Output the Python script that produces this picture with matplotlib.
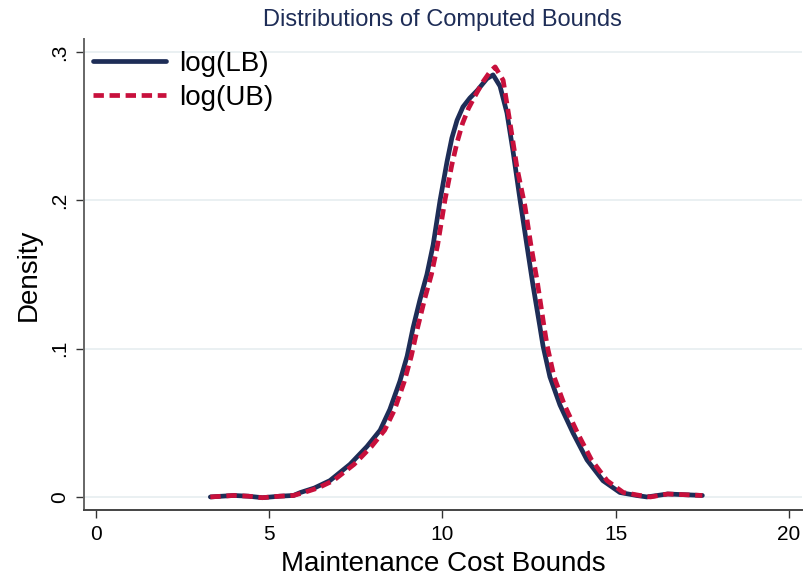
import matplotlib.pyplot as plt

plt.rcParams['font.family'] = ['Liberation Sans', 'DejaVu Sans']

# kernel density of log lower bound
x_lb = [3.3, 3.97, 4.4, 4.8, 5.3, 5.7, 5.9, 6.3, 6.75, 7.33, 7.82, 8.2, 8.48,
        8.77, 8.98, 9.15, 9.35, 9.55, 9.73, 9.93, 10.13, 10.27, 10.42, 10.59,
        10.79, 11.0, 11.28, 11.46, 11.66, 11.86, 12.03, 12.24, 12.44, 12.61,
        12.81, 12.9, 13.1, 13.39, 13.77, 14.17, 14.63, 15.12, 15.6, 15.9,
        16.5, 17.0, 17.5]
d_lb = [0.0, 0.001, 0.0005, -0.0005, 0.0005, 0.001, 0.003, 0.006, 0.011,
        0.022, 0.034, 0.045, 0.059, 0.078, 0.095, 0.114, 0.133, 0.150, 0.170,
        0.200, 0.226, 0.242, 0.254, 0.263, 0.269, 0.274, 0.282, 0.2846,
        0.277, 0.259, 0.234, 0.200, 0.169, 0.143, 0.115, 0.102, 0.081, 0.062,
        0.043, 0.025, 0.011, 0.003, 0.001, 0.0, 0.002, 0.0015, 0.001]

# kernel density of log upper bound
x_ub = [3.3, 3.97, 4.4, 4.8, 5.3, 5.7, 6.0, 6.4, 6.85, 7.45, 7.95, 8.33, 8.62,
        8.9, 9.1, 9.28, 9.48, 9.68, 9.86, 10.07, 10.27, 10.42, 10.58, 10.75,
        10.93, 11.17, 11.38, 11.52, 11.75, 11.95, 12.15, 12.38, 12.55, 12.73,
        12.93, 13.02, 13.22, 13.52, 13.9, 14.3, 14.75, 15.22, 15.7, 16.0,
        16.5, 17.0, 17.5]
d_ub = [0.0, 0.001, 0.0005, -0.0005, 0.0005, 0.001, 0.003, 0.006, 0.011,
        0.022, 0.034, 0.045, 0.059, 0.078, 0.095, 0.114, 0.133, 0.150, 0.170,
        0.200, 0.224, 0.239, 0.252, 0.262, 0.270, 0.280, 0.287, 0.290,
        0.281, 0.252, 0.222, 0.196, 0.170, 0.146, 0.115, 0.102, 0.081, 0.062,
        0.043, 0.025, 0.011, 0.003, 0.001, 0.0, 0.002, 0.0015, 0.001]

x_ticks = [0, 5, 10, 15, 20]
y_ticks = [0, 0.1, 0.2, 0.3]
y_ticklabels = ['0', '.1', '.2', '.3']

navy = '#1e2d57'
red = '#c8103c'

fig = plt.figure(figsize=(8.04, 5.77), dpi=100)
ax = fig.add_axes([84 / 804, 1 - 510 / 577, 718 / 804, 471 / 577])

ax.plot(x_lb, d_lb, color=navy, lw=3.4, solid_capstyle='round',
        solid_joinstyle='round', label='log(LB)', zorder=3)
ax.plot(x_ub, d_ub, color=red, lw=3.4, dashes=(2.2, 1.2),
        label='log(UB)', zorder=4)

ax.set_xlim(-0.346, 20.375)
ax.set_ylim(-0.0088, 0.3088)
ax.set_xticks(x_ticks)
ax.set_yticks(y_ticks)
ax.set_yticklabels(y_ticklabels, rotation=90, va='center')
ax.tick_params(axis='both', labelsize=15, length=6, width=1, color='#333333',
               pad=5)

ax.grid(axis='y', color='#eaf0f2', lw=1.4)
ax.set_axisbelow(True)
for side in ['top', 'right']:
    ax.spines[side].set_visible(False)
ax.spines['left'].set_color('#666666')
ax.spines['bottom'].set_color('#444444')
ax.spines['left'].set_linewidth(1.4)
ax.spines['bottom'].set_linewidth(1.4)

ax.set_xlabel('Maintenance Cost Bounds', fontsize=20, labelpad=5)
ax.set_ylabel('Density', fontsize=20, labelpad=6)

fig.text(442.5 / 804, 1 - 20 / 577, 'Distributions of Computed Bounds',
         ha='center', va='center', fontsize=17, color=navy)

ax.legend(loc='upper left', bbox_to_anchor=(0.012, 0.975), frameon=False,
          fontsize=20, handlelength=2.65, handletextpad=0.45,
          labelspacing=0.3, borderpad=0, borderaxespad=0)

fig.savefig('out.png', dpi=100)
